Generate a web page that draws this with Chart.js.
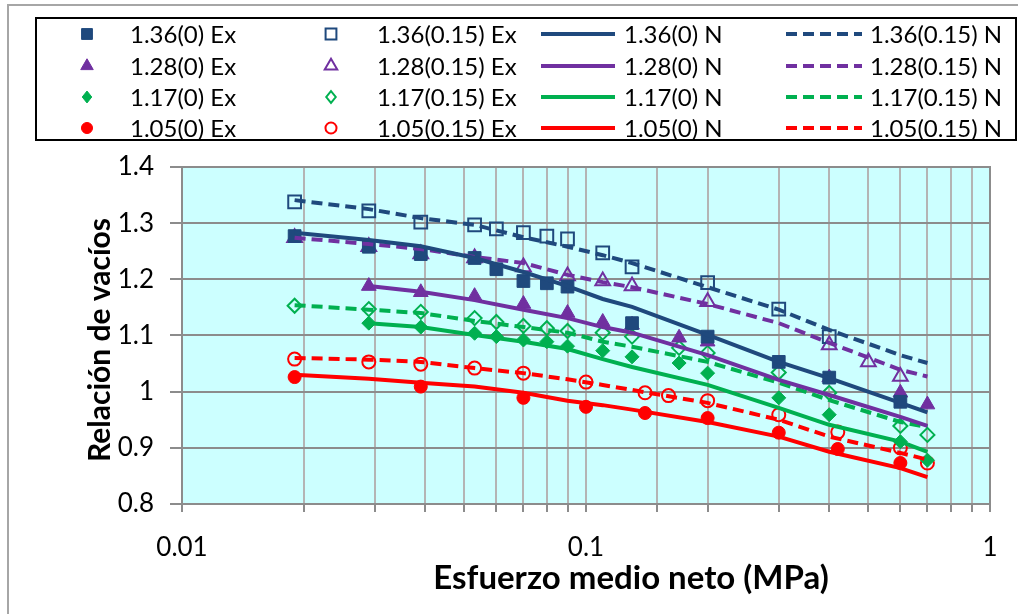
<!DOCTYPE html>
<html>
<head>
<meta charset="utf-8">
<script src="https://cdn.jsdelivr.net/npm/chart.js@4.4.1/dist/chart.umd.min.js"></script>
<style>
  body { margin: 0; background: #fff; }
  #wrap { width: 1018px; height: 614px; }
</style>
</head>
<body>
<div id="wrap"><canvas id="chart" width="1018" height="614"></canvas></div>
<script>
// experimental points (Ex)
const ex136_0X = [0.019, 0.029, 0.039, 0.053, 0.06, 0.07, 0.08, 0.09, 0.13, 0.2, 0.3, 0.4, 0.6];
const ex136_0Y = [1.277, 1.258, 1.245, 1.238, 1.218, 1.197, 1.193, 1.187, 1.122, 1.098, 1.053, 1.025, 0.982];
const ex136_15X = [0.019, 0.029, 0.039, 0.053, 0.06, 0.07, 0.08, 0.09, 0.11, 0.13, 0.2, 0.3, 0.4];
const ex136_15Y = [1.338, 1.322, 1.302, 1.297, 1.290, 1.283, 1.277, 1.272, 1.247, 1.222, 1.194, 1.147, 1.098];
const ex128_0X = [0.029, 0.039, 0.053, 0.07, 0.09, 0.11, 0.13, 0.17, 0.2, 0.4, 0.6, 0.7];
const ex128_0Y = [1.188, 1.177, 1.170, 1.156, 1.140, 1.124, 1.119, 1.096, 1.089, 1.025, 0.998, 0.977];
const ex128_15X = [0.019, 0.029, 0.039, 0.053, 0.07, 0.09, 0.11, 0.13, 0.2, 0.4, 0.5, 0.6];
const ex128_15Y = [1.274, 1.258, 1.245, 1.238, 1.222, 1.206, 1.197, 1.188, 1.160, 1.083, 1.053, 1.027];
const ex117_0X = [0.029, 0.039, 0.053, 0.06, 0.07, 0.08, 0.09, 0.11, 0.13, 0.17, 0.2, 0.3, 0.4, 0.6, 0.7];
const ex117_0Y = [1.122, 1.115, 1.104, 1.098, 1.092, 1.089, 1.081, 1.073, 1.062, 1.051, 1.033, 0.989, 0.959, 0.911, 0.878];
const ex117_15X = [0.019, 0.029, 0.039, 0.053, 0.06, 0.07, 0.08, 0.09, 0.11, 0.13, 0.17, 0.2, 0.3, 0.4, 0.6, 0.7];
const ex117_15Y = [1.153, 1.147, 1.142, 1.131, 1.124, 1.117, 1.113, 1.108, 1.105, 1.098, 1.078, 1.069, 1.034, 0.998, 0.939, 0.923];
const ex105_0X = [0.019, 0.039, 0.07, 0.1, 0.14, 0.2, 0.3, 0.42, 0.6];
const ex105_0Y = [1.026, 1.009, 0.989, 0.973, 0.962, 0.953, 0.927, 0.898, 0.873];
const ex105_15X = [0.019, 0.029, 0.039, 0.053, 0.07, 0.1, 0.14, 0.16, 0.2, 0.3, 0.42, 0.6, 0.7];
const ex105_15Y = [1.058, 1.053, 1.049, 1.042, 1.033, 1.017, 0.998, 0.993, 0.984, 0.959, 0.928, 0.900, 0.873];

// numerical curves (N)
const nX = [0.019, 0.029, 0.039, 0.053, 0.07, 0.09, 0.11, 0.13, 0.2, 0.3, 0.4, 0.6, 0.7];
const n136_0 = [1.283, 1.270, 1.259, 1.238, 1.213, 1.188, 1.165, 1.151, 1.101, 1.053, 1.024, 0.980, 0.963];
const n136_15 = [1.341, 1.325, 1.309, 1.297, 1.275, 1.258, 1.243, 1.229, 1.186, 1.146, 1.110, 1.065, 1.051];
const n128_0 = [null, 1.188, 1.178, 1.163, 1.146, 1.131, 1.115, 1.105, 1.065, 1.021, 0.994, 0.955, 0.939];
const n128_15 = [1.274, 1.263, 1.254, 1.240, 1.229, 1.208, 1.195, 1.186, 1.156, 1.122, 1.087, 1.039, 1.027];
const n117_0 = [null, 1.122, 1.115, 1.101, 1.089, 1.076, 1.058, 1.044, 1.012, 0.971, 0.941, 0.911, 0.893];
const n117_15 = [1.154, 1.146, 1.140, 1.126, 1.115, 1.105, 1.089, 1.080, 1.053, 1.016, 0.985, 0.946, 0.937];
const n105_0 = [1.030, 1.023, 1.016, 1.009, 0.998, 0.984, 0.976, 0.968, 0.946, 0.920, 0.893, 0.864, 0.848];
const n105_15 = [1.060, 1.057, 1.053, 1.042, 1.033, 1.022, 1.012, 1.003, 0.980, 0.950, 0.920, 0.891, 0.879];

const xTickLabels = ['0.01', '0.1', '1'];

const NAVY = '#1f497d', PURPLE = '#7030a0', GREEN = '#00b050', RED = '#ff0000';
const FONT = 'Lato';

function pts(xs, ys) {
    return xs.map((x, i) => ({x: x, y: ys[i]}));
}

function exSet(label, xs, ys, color, style, filled, r) {
    return {
        label: label, data: pts(xs, ys), showLine: false, order: 2,
        pointStyle: style, pointRadius: r, pointHoverRadius: r,
        pointBackgroundColor: filled ? color : 'rgba(0,0,0,0)',
        pointBorderColor: color, pointBorderWidth: filled ? 1 : 2,
        borderColor: color, backgroundColor: color
    };
}

function nSet(label, ys, color, dashed) {
    return {
        label: label, data: pts(nX, ys), showLine: true, order: 1,
        borderColor: color, backgroundColor: color, borderWidth: 4,
        borderDash: dashed ? [11, 6] : [], pointRadius: 0, pointHoverRadius: 0,
        tension: 0, fill: false
    };
}

// legend order, row by row
const datasets = [
    exSet('1.36(0) Ex', ex136_0X, ex136_0Y, NAVY, 'rect', true, 9),
    exSet('1.36(0.15) Ex', ex136_15X, ex136_15Y, NAVY, 'rect', false, 9),
    nSet('1.36(0) N', n136_0, NAVY, false),
    nSet('1.36(0.15) N', n136_15, NAVY, true),
    exSet('1.28(0) Ex', ex128_0X, ex128_0Y, PURPLE, 'triangle', true, 8.5),
    exSet('1.28(0.15) Ex', ex128_15X, ex128_15Y, PURPLE, 'triangle', false, 8.5),
    nSet('1.28(0) N', n128_0, PURPLE, false),
    nSet('1.28(0.15) N', n128_15, PURPLE, true),
    exSet('1.17(0) Ex', ex117_0X, ex117_0Y, GREEN, 'rectRot', true, 7),
    exSet('1.17(0.15) Ex', ex117_15X, ex117_15Y, GREEN, 'rectRot', false, 7),
    nSet('1.17(0) N', n117_0, GREEN, false),
    nSet('1.17(0.15) N', n117_15, GREEN, true),
    exSet('1.05(0) Ex', ex105_0X, ex105_0Y, RED, 'circle', true, 6.5),
    exSet('1.05(0.15) Ex', ex105_15X, ex105_15Y, RED, 'circle', false, 6.5),
    nSet('1.05(0) N', n105_0, RED, false),
    nSet('1.05(0.15) N', n105_15, RED, true)
];

// cyan plot background, outer frame, legend box and axis titles
const decor = {
    id: 'decor',
    beforeDraw(chart) {
        const c = chart.ctx, a = chart.chartArea;
        c.save();
        c.fillStyle = '#ccffff';
        c.fillRect(a.left, a.top, a.right - a.left, a.bottom - a.top);
        c.strokeStyle = '#a6a6a6';
        c.lineWidth = 2;
        c.beginPath();
        c.moveTo(8, 620); c.lineTo(8, 5); c.lineTo(1030, 5);
        c.stroke();
        c.restore();
    },
    afterDraw(chart) {
        const c = chart.ctx, a = chart.chartArea;
        c.save();
        c.strokeStyle = '#8c8c8c';
        c.lineWidth = 2;
        c.strokeRect(a.left, a.top, a.right - a.left, a.bottom - a.top);

        // legend
        c.strokeStyle = '#000';
        c.lineWidth = 2;
        c.strokeRect(36, 18, 980, 122);
        const rowY = [34, 66, 97, 128];
        const markX = [87, 331];
        const textX = [130, 377, 624, 870];
        const lineX = [[541, 615], [786, 862]];
        c.textBaseline = 'middle';
        chart.data.datasets.forEach((ds, i) => {
            const row = Math.floor(i / 4), col = i % 4, y = rowY[row];
            if (col < 2) {
                const mx = markX[col], r = ds.pointRadius * 0.85;
                c.fillStyle = ds.pointBackgroundColor;
                c.strokeStyle = ds.pointBorderColor;
                c.lineWidth = ds.pointBorderWidth;
                c.beginPath();
                if (ds.pointStyle === 'rect') {
                    const s = r * Math.SQRT1_2;
                    c.rect(mx - s, y - s, 2 * s, 2 * s);
                } else if (ds.pointStyle === 'triangle') {
                    c.moveTo(mx, y - r);
                    c.lineTo(mx + r * 0.866, y + r * 0.5);
                    c.lineTo(mx - r * 0.866, y + r * 0.5);
                    c.closePath();
                } else if (ds.pointStyle === 'rectRot') {
                    c.moveTo(mx, y - r);
                    c.lineTo(mx + r * 0.8, y);
                    c.lineTo(mx, y + r);
                    c.lineTo(mx - r * 0.8, y);
                    c.closePath();
                } else {
                    c.arc(mx, y, r, 0, Math.PI * 2);
                }
                c.fill();
                c.stroke();
            } else {
                const lx = lineX[col - 2];
                c.strokeStyle = ds.borderColor;
                c.lineWidth = 4;
                c.setLineDash(ds.borderDash);
                c.beginPath();
                c.moveTo(lx[0], y);
                c.lineTo(lx[1], y);
                c.stroke();
                c.setLineDash([]);
            }
            c.font = '24px ' + FONT;
            c.fillStyle = '#000';
            c.textAlign = 'left';
            c.fillText(ds.label, textX[col], y + 1);
        });

        // axis titles
        c.fillStyle = '#000';
        c.textAlign = 'center';
        c.textBaseline = 'middle';
        c.font = 'bold 33px ' + FONT;
        c.fillText('Esfuerzo medio neto (MPa)', 631, 578);
        c.font = 'bold 30px ' + FONT;
        c.translate(100, 340);
        c.rotate(-Math.PI / 2);
        c.fillText('Relación de vacíos', 0, 0);
        c.restore();
    }
};

Chart.defaults.font.family = FONT;
Chart.defaults.color = '#000';

new Chart(document.getElementById('chart'), {
    type: 'scatter',
    data: {datasets: datasets},
    plugins: [decor],
    options: {
        responsive: false,
        animation: false,
        devicePixelRatio: 1,
        layout: {padding: {top: 167, right: 28, left: 0, bottom: 0}},
        plugins: {legend: {display: false}, tooltip: {enabled: false}},
        scales: {
            x: {
                type: 'logarithmic',
                min: 0.01,
                max: 1,
                afterFit(scale) { scale.height = 110; },
                border: {display: false},
                grid: {color: '#b4b4b4', lineWidth: 2, tickColor: '#8c8c8c', tickLength: 8},
                ticks: {
                    autoSkip: false,
                    maxRotation: 0,
                    padding: 20,
                    font: {size: 26},
                    callback(v) {
                        const e = Math.log10(v);
                        if (Math.abs(e - Math.round(e)) > 1e-6) return '';
                        return xTickLabels[Math.round(e) + 2];
                    }
                }
            },
            y: {
                min: 0.8,
                max: 1.4,
                afterFit(scale) { scale.width = 182; },
                border: {display: false},
                grid: {
                    lineWidth: 2,
                    tickColor: '#8c8c8c',
                    tickLength: 12,
                    color(ctx) {
                        if (!ctx.tick) return '#8c8c8c';
                        return Math.round(ctx.tick.value * 100) % 10 === 0 ? '#8c8c8c' : 'rgba(0,0,0,0)';
                    }
                },
                ticks: {
                    stepSize: 0.05,
                    padding: 16,
                    font: {size: 26},
                    callback(v) {
                        const k = Math.round(v * 100);
                        if (k % 10 !== 0) return '';
                        return String(k / 100);
                    }
                }
            }
        }
    }
});
</script>
</body>
</html>
